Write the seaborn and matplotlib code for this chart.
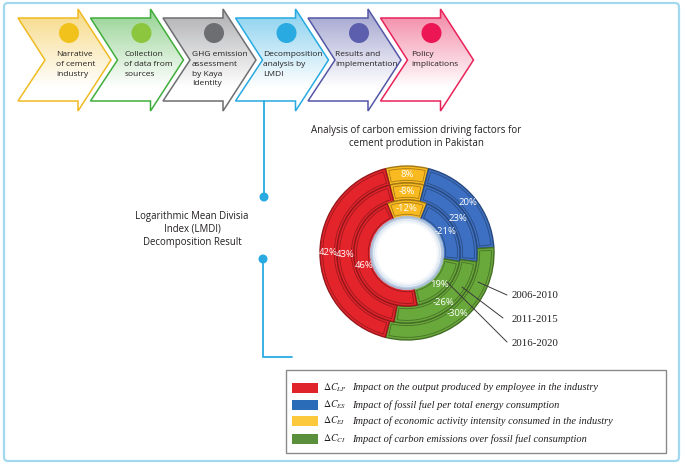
import matplotlib
matplotlib.use("Agg")
import matplotlib.pyplot as plt
import numpy as np
import seaborn as sns
from matplotlib.colors import to_rgb
from matplotlib.patches import Circle, FancyBboxPatch, Polygon, Rectangle, Wedge

# process steps across the top
steps = [
    "Narrative\nof cement\nindustry",
    "Collection\nof data from\nsources",
    "GHG emission\nassessment\nby Kaya\nIdentity",
    "Decomposition\nanalysis by\nLMDI",
    "Results and\nimplementation",
    "Policy\nimplications",
]
step_colors = ["#f0bb22", "#3fae3a", "#6d6e71", "#27aae1", "#5457a6", "#e8235a"]
dot_colors = ["#f1c21b", "#8cc63f", "#6d6e71", "#29abe2", "#5b5fae", "#ec1654"]

# LMDI decomposition shares (%), one value per period
periods = ["2006-2010", "2011-2015", "2016-2020"]
delta_lp = [42, 43, 46]
delta_es = [20, 23, -21]
delta_ei = [8, -8, -12]
delta_ci = [-30, -26, 19]

factor_keys = ["LP", "ES", "EI", "CI"]
factor_colors = {"LP": "#e3242b", "ES": "#3d70c2", "EI": "#f9b921", "CI": "#69a83a"}
legend_colors = {"LP": "#e0232a", "ES": "#2b6cb8", "EI": "#fcc83c", "CI": "#5a8f3c"}
factor_desc = [
    "Impact on the output produced by employee in the industry",
    "Impact of fossil fuel per total energy consumption",
    "Impact of economic activity intensity consumed in the industry",
    "Impact of carbon emissions over fossil fuel consumption",
]

sns.set_theme(style="white")
plt.rcParams["font.family"] = ["Open Sans", "DejaVu Sans"]
plt.rcParams["mathtext.fontset"] = "stix"

W, H = 685, 466
fig = plt.figure(figsize=(W / 100, H / 100), dpi=100)
fig.patch.set_facecolor("white")

ax = fig.add_axes([0, 0, 1, 1])
ax.set_xlim(0, W)
ax.set_ylim(H, 0)
ax.axis("off")

# outer frame
ax.add_patch(FancyBboxPatch((4, 3), 675, 458, boxstyle="round,pad=0,rounding_size=4",
                            fc="white", ec="#a3d9ee", lw=1.6))

# chevron arrows
text_dx = [38, 34, 29, 28, 27, 31]
for i, (label, col, dcol) in enumerate(zip(steps, step_colors, dot_colors)):
    s = 18 + i * 72.5
    pts = [(s, 18), (s + 60, 18), (s + 60, 9), (s + 93, 60), (s + 60, 111),
           (s + 60, 101), (s, 101), (s + 27, 60)]
    poly = Polygon(pts, closed=True, fc="none", ec=col, lw=1.1, zorder=3)
    ax.add_patch(poly)
    base = np.array(to_rgb(col))
    fade = np.clip(np.linspace(1, -0.3, 120), 0, 1)[:, None]
    tint = 1 - (1 - base) * 0.55
    grad = fade * tint + (1 - fade) * np.ones(3)
    img = ax.imshow(grad[:, None, :], extent=(s, s + 94, 111, 9), origin="upper",
                    aspect="auto", zorder=2)
    img.set_clip_path(poly)
    ax.add_patch(Circle((s + 51, 33), 10, fc=dcol, ec="none", zorder=4))
    ax.text(s + text_dx[i], 51, label, fontsize=6.0, color="#231f20", va="top",
            ha="left", linespacing=1.55, zorder=5)

ax.set_xlim(0, W)
ax.set_ylim(H, 0)

# connector from the LMDI step
line_col = "#29abe2"
ax.plot([264, 264], [101, 197], color=line_col, lw=1.3)
ax.add_patch(Circle((264, 197), 4.5, fc=line_col, ec="none"))
ax.add_patch(Circle((263, 259), 4.5, fc=line_col, ec="none"))
ax.plot([263, 263, 292], [259, 357, 357], color=line_col, lw=1.3)

ax.text(192, 229, "Logarithmic Mean Divisia\nIndex (LMDI)\nDecomposition Result",
        fontsize=6.9, color="#231f20", ha="center", va="center", linespacing=1.25)
ax.text(416, 137, "Analysis of carbon emission driving factors for\ncement prodution in Pakistan",
        fontsize=7.0, color="#231f20", ha="center", va="center", linespacing=1.15)

# donut: outer ring 2006-2010, inner ring 2016-2020
cx, cy, R = 407, 253, 87
L = R * 1.05
ax_d = fig.add_axes([(cx - L) / W, (H - cy - L) / H, 2 * L / W, 2 * L / H])
values = {"LP": delta_lp, "ES": delta_es, "EI": delta_ei, "CI": delta_ci}
ring_order = ["EI", "ES", "CI", "LP"]
radii = [1.0, 0.805, 0.61]
width = 0.195

def darker(c, f=0.72):
    return tuple(np.array(to_rgb(c)) * f)

for i, period in enumerate(periods):
    vals = [values[k][i] for k in ring_order]
    sizes = np.abs(vals)
    start = 90 + sizes[0] / sizes.sum() * 180
    wedges, _ = ax_d.pie(sizes, radius=radii[i], startangle=start, counterclock=False,
                         colors=[factor_colors[k] for k in ring_order],
                         wedgeprops=dict(width=width, linewidth=1.0))
    r_mid = radii[i] - width / 2
    for w, k, v in zip(wedges, ring_order, vals):
        w.set_edgecolor(darker(factor_colors[k], 0.65))
        dth = np.rad2deg(0.03 / r_mid)
        ax_d.add_patch(Wedge((0, 0), radii[i] - 0.03, w.theta1 + dth, w.theta2 - dth,
                             width=width - 0.06, fill=False,
                             ec=darker(factor_colors[k], 0.6), lw=0.6, alpha=0.8))
        ang = np.deg2rad((w.theta1 + w.theta2) / 2)
        ax_d.text(r_mid * np.cos(ang), r_mid * np.sin(ang), f"{v}%", color="white",
                  fontsize=6.8, ha="center", va="center")

hole = 1.0 - 3 * width
for rr, a in [(hole - 0.005, 0.9), (hole - 0.03, 0.35), (hole - 0.055, 0.15)]:
    ax_d.add_patch(Circle((0, 0), rr, fc="none", ec="#b4c9e2", lw=2.2, alpha=a))
ax_d.set_xlim(-1.05, 1.05)
ax_d.set_ylim(-1.05, 1.05)
ax_d.set_aspect("equal")
ax_d.axis("off")

# overlay: leader lines, period labels, legend
ov = fig.add_axes([0, 0, 1, 1])
ov.set_xlim(0, W)
ov.set_ylim(H, 0)
ov.axis("off")
ov.patch.set_alpha(0)

leader_start = [(478, 282), (462, 287), (447, 282)]
leader_end = [(507, 295), (503, 318), (507, 342)]
label_y = [295, 320, 344]
for p, a, b, y in zip(periods, leader_start, leader_end, label_y):
    ov.plot([a[0], b[0]], [a[1], b[1]], color="#3a3a3a", lw=0.7)
    ov.text(512, y, p, fontsize=7.8, family="Liberation Serif", color="#231f20",
            va="center", ha="left")

ov.add_patch(Rectangle((286, 370), 380, 83, fc="white", ec="#8a8a8a", lw=1.0))
row_y = [388, 405, 421, 439]
for k, desc, y in zip(factor_keys, factor_desc, row_y):
    ov.add_patch(Rectangle((292, y - 5), 26, 10, fc=legend_colors[k], ec="none"))
    ov.text(323, y, rf"$\Delta C_{{{k}}}$", fontsize=7, color="#231f20", va="center")
    ov.text(352, y, desc, fontsize=7.5, family="Liberation Serif", style="italic",
            color="#231f20", va="center")

fig.savefig("out.png", dpi=100)
